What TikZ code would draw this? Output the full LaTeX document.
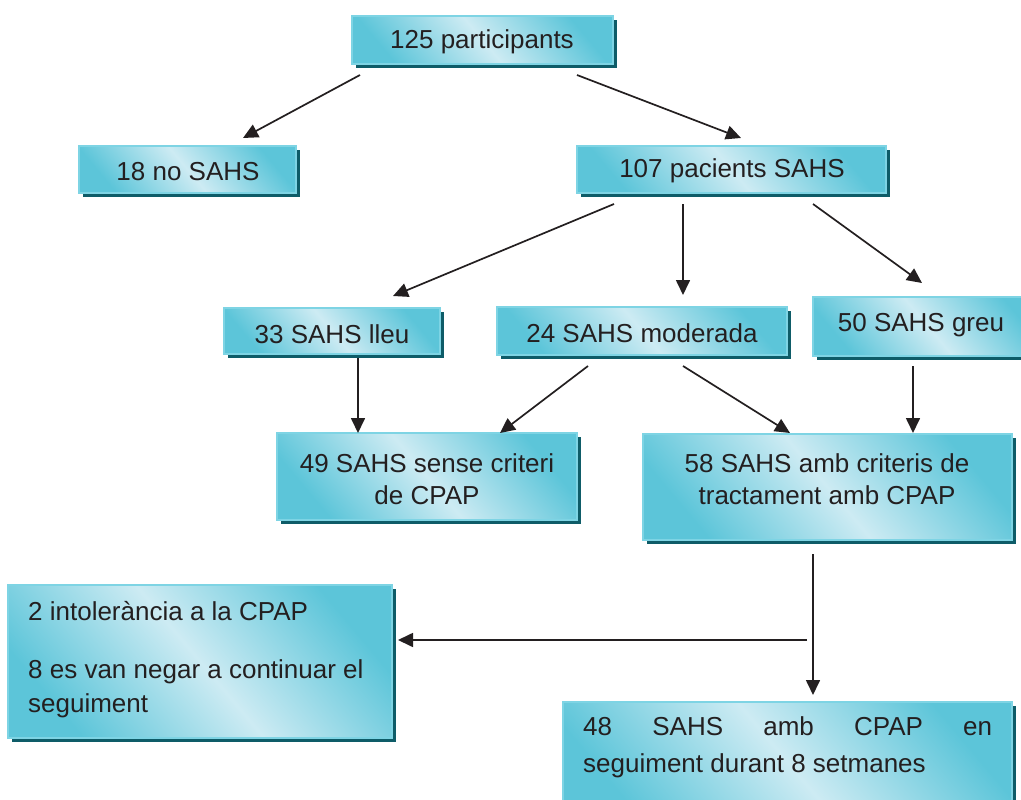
\documentclass[tikz,border=0pt]{standalone}
\usepackage{fontspec}
\setmainfont{Liberation Sans}
\usetikzlibrary{shadows,arrows.meta,calc}
\definecolor{boxdark}{HTML}{5CC5D9}
\definecolor{boxlight}{HTML}{CDEBF3}
\definecolor{boxline}{HTML}{7ED4E4}
\definecolor{shadowc}{HTML}{0E5C68}
\definecolor{ink}{HTML}{231F20}
\begin{document}
\begin{tikzpicture}[x=1pt,y=-1pt,
  box/.style={draw=boxline, line width=1.2pt, top color=boxdark, bottom color=boxdark,
    middle color=boxlight, shading angle=-50,
    drop shadow={shadow xshift=4pt, shadow yshift=-4pt, fill=shadowc, opacity=1},
    anchor=north west, inner sep=0pt, outer sep=0pt},
  txt/.style={font=\fontsize{26}{32}\selectfont, text=ink, inner sep=0pt},
  arr/.style={draw=ink, line width=1.7pt, -{Triangle[length=15pt,width=14pt]}},
  ln/.style={draw=ink, line width=1.7pt}]
\useasboundingbox (0,0) rectangle (1021,800);
\clip (0,0) rectangle (1021,800);
% boxes
\node[box, minimum width=261pt, minimum height=48pt] (b125) at (352,16) {};
\node[box, minimum width=217pt, minimum height=47pt] (b18) at (79,146) {};
\node[box, minimum width=309pt, minimum height=47pt] (b107) at (577,146) {};
\node[box, minimum width=216pt, minimum height=46pt] (b33) at (224,308) {};
\node[box, minimum width=290pt, minimum height=48pt] (b24) at (497,307) {};
\node[box, minimum width=230pt, minimum height=59pt] (b50) at (813,297) {};
\node[box, minimum width=300pt, minimum height=87pt] (b49) at (277,433) {};
\node[box, minimum width=369pt, minimum height=106pt] (b58) at (643,434) {};
\node[box, minimum width=384pt, minimum height=153pt] (b2) at (8,585) {};
\node[box, minimum width=449pt, minimum height=120pt] (b48) at (563,702) {};
% texts
\node[txt] (t125) at (482,42) {125 participants};
\node[txt] (t18) at (188,172) {18 no SAHS};
\node[txt] (t107) at (732,171) {107 pacients SAHS};
\node[txt] (t33) at (332,334) {33 SAHS lleu};
\node[txt] (t24) at (642,333) {24 SAHS moderada};
\node[txt] (t50) at (921,325) {50 SAHS greu};
\node[txt, align=center] (t49) at (427,479) {49 SAHS sense criteri\\de CPAP};
\node[txt, align=center] (t58) at (827,479) {58 SAHS amb criteris de\\tractament amb CPAP};
\node[txt, align=left, anchor=north west, font=\fontsize{26}{34}\selectfont] (t2) at (28,601)
  {2 intolerància a la CPAP\\[24pt]8 es van negar a continuar el\\seguiment};
\node[txt, align=left, anchor=north west, font=\fontsize{26}{37}\selectfont] (t48) at (583,716)
  {\makebox[409pt][s]{48 SAHS amb CPAP en}\\seguiment durant 8 setmanes};
% connectors
\draw[arr] ($(b125.north west)+(8,59)$) -- ($(b18.north west)+(164,-8)$);
\draw[arr] ($(b125.north west)+(225,59)$) -- ($(b107.north west)+(164,-8)$);
\draw[arr] ($(b107.north west)+(37,58)$) -- ($(b33.north west)+(169,-12)$);
\draw[arr] ($(b107.north west)+(106,58)$) -- ($(b24.north west)+(186,-12)$);
\draw[arr] ($(b107.north west)+(236,58)$) -- ($(b50.north west)+(109,-14)$);
\draw[arr] ($(b33.north west)+(134,50)$) -- ($(b49.north west)+(81,0)$);
\draw[arr] ($(b24.north west)+(91,59)$) -- ($(b49.north west)+(223,0)$);
\draw[arr] ($(b24.north west)+(186,59)$) -- ($(b58.north west)+(147,-1)$);
\draw[arr] ($(b50.north west)+(100,69)$) -- ($(b58.north west)+(270,-1)$);
\draw[arr] ($(b58.north west)+(170,120)$) -- ($(b48.north west)+(250,-7)$);
\coordinate (split) at ($(b58.north west)+(164,206)$);
\draw[arr] (split) -- ($(b2.north west)+(390,55)$);
\end{tikzpicture}
\end{document}
